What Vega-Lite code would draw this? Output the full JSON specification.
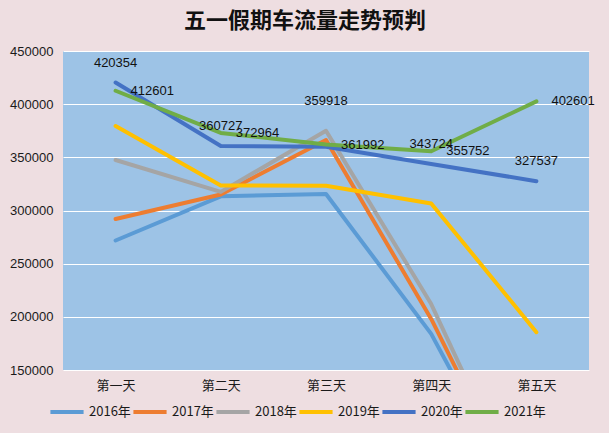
{
  "$schema": "https://vega.github.io/schema/vega-lite/v6.json",
  "width": 526,
  "height": 319,
  "autosize": "none",
  "padding": {"left": 63, "top": 51, "right": 20, "bottom": 63},
  "background": "#EEDEE1",
  "title": {
    "text": "五一假期车流量走势预判",
    "anchor": "middle",
    "dx": -21,
    "offset": 12,
    "fontSize": 22,
    "font": "Noto Sans CJK SC",
    "fontWeight": "bold",
    "color": "#111111"
  },
  "config": {
    "view": {"fill": "#9DC3E6", "stroke": null}
  },
  "data": {
    "values": [
      {"day": "第一天", "year": "2016年", "value": 271800},
      {"day": "第二天", "year": "2016年", "value": 313300},
      {"day": "第三天", "year": "2016年", "value": 315500},
      {"day": "第四天", "year": "2016年", "value": 184000},
      {"day": "第五天", "year": "2016年", "value": 0},
      {"day": "第一天", "year": "2017年", "value": 292000},
      {"day": "第二天", "year": "2017年", "value": 315000},
      {"day": "第三天", "year": "2017年", "value": 366300},
      {"day": "第四天", "year": "2017年", "value": 198000},
      {"day": "第五天", "year": "2017年", "value": 0},
      {"day": "第一天", "year": "2018年", "value": 347500},
      {"day": "第二天", "year": "2018年", "value": 317500},
      {"day": "第三天", "year": "2018年", "value": 375000},
      {"day": "第四天", "year": "2018年", "value": 212000},
      {"day": "第五天", "year": "2018年", "value": 0},
      {"day": "第一天", "year": "2019年", "value": 379400},
      {"day": "第二天", "year": "2019年", "value": 323600},
      {"day": "第三天", "year": "2019年", "value": 323200},
      {"day": "第四天", "year": "2019年", "value": 306600},
      {"day": "第五天", "year": "2019年", "value": 185600},
      {"day": "第一天", "year": "2020年", "value": 420354},
      {"day": "第二天", "year": "2020年", "value": 360727},
      {"day": "第三天", "year": "2020年", "value": 359918},
      {"day": "第四天", "year": "2020年", "value": 343724},
      {"day": "第五天", "year": "2020年", "value": 327537},
      {"day": "第一天", "year": "2021年", "value": 412601},
      {"day": "第二天", "year": "2021年", "value": 372964},
      {"day": "第三天", "year": "2021年", "value": 361992},
      {"day": "第四天", "year": "2021年", "value": 355752},
      {"day": "第五天", "year": "2021年", "value": 402601}
    ]
  },
  "encoding": {
    "x": {
      "field": "day",
      "type": "nominal",
      "sort": ["第一天", "第二天", "第三天", "第四天", "第五天"],
      "axis": {
        "title": null,
        "labelAngle": 0,
        "ticks": false,
        "domain": false,
        "labelPadding": 9,
        "labelFont": "Noto Sans CJK SC",
        "labelFontSize": 13,
        "labelColor": "#1a1a1a"
      }
    },
    "y": {
      "field": "value",
      "type": "quantitative",
      "scale": {"domain": [150000, 450000], "nice": false, "zero": false},
      "axis": {
        "title": null,
        "values": [150000, 200000, 250000, 300000, 350000, 400000, 450000],
        "format": "d",
        "grid": true,
        "gridColor": "#FFFFFF",
        "gridWidth": 1,
        "domain": false,
        "ticks": false,
        "labelPadding": 10,
        "labelFont": "Liberation Sans",
        "labelFontSize": 13,
        "labelColor": "#1a1a1a"
      }
    }
  },
  "layer": [
    {
      "mark": {"type": "line", "clip": true, "strokeWidth": 4, "strokeCap": "round", "strokeJoin": "round"},
      "encoding": {
        "color": {
          "field": "year",
          "type": "nominal",
          "scale": {
            "domain": ["2016年", "2017年", "2018年", "2019年", "2020年", "2021年"],
            "range": ["#5B9BD5", "#ED7D31", "#A5A5A5", "#FFC000", "#4472C4", "#70AD47"]
          },
          "legend": {
            "title": null,
            "orient": "none",
            "legendX": -15,
            "legendY": 342,
            "direction": "horizontal",
            "symbolType": "stroke",
            "symbolSize": 1100,
            "symbolStrokeWidth": 4,
            "labelFont": "Noto Sans CJK SC",
            "labelFontSize": 13,
            "labelColor": "#1a1a1a",
            "labelOffset": 3,
            "columnPadding": -6
          }
        }
      }
    },
    {
      "transform": [{"filter": "datum.year === '2020年' && datum.day !== '第三天'"}],
      "mark": {"type": "text", "dy": -20, "font": "Liberation Sans", "fontSize": 13, "color": "#111111"},
      "encoding": {"text": {"field": "value", "type": "quantitative", "format": "d"}}
    },
    {
      "transform": [{"filter": "datum.year === '2020年' && datum.day === '第三天'"}],
      "mark": {"type": "text", "dy": -46, "font": "Liberation Sans", "fontSize": 13, "color": "#111111"},
      "encoding": {"text": {"field": "value", "type": "quantitative", "format": "d"}}
    },
    {
      "transform": [{"filter": "datum.year === '2021年'"}],
      "mark": {"type": "text", "align": "left", "dx": 15, "font": "Liberation Sans", "fontSize": 13, "color": "#111111"},
      "encoding": {"text": {"field": "value", "type": "quantitative", "format": "d"}}
    }
  ]
}
